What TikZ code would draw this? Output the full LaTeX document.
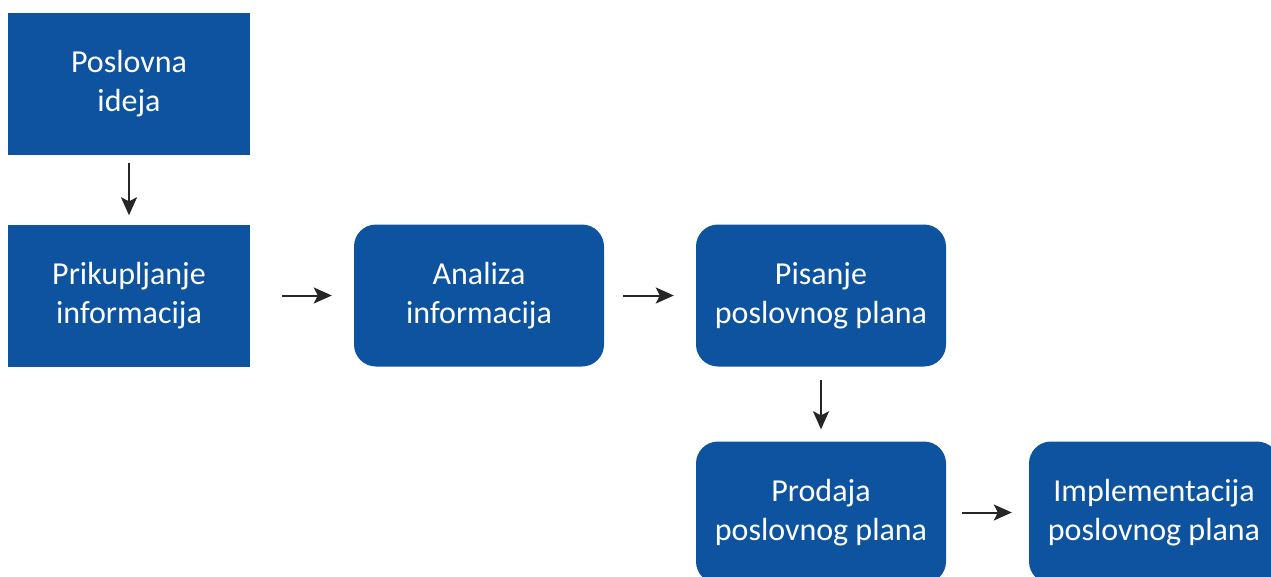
\documentclass[tikz,border=0pt]{standalone}
\usepackage{fontspec}
\setmainfont{Carlito}
\usetikzlibrary{arrows.meta}
\definecolor{boxblue}{RGB}{13,83,160}
\definecolor{arrowgray}{RGB}{38,38,38}
\begin{document}
\begin{tikzpicture}[x=1pt,y=-1pt,
  box/.style={fill=boxblue, draw=none, text=white, minimum width=242pt, minimum height=142pt,
    align=center, inner sep=0pt, font=\fontsize{32}{39}\selectfont},
  roundbox/.style={box, minimum width=250pt, rounded corners=22pt},
  flow/.style={draw=arrowgray, line width=2pt, -{Stealth[length=18pt,width=16pt,inset=4pt]}}]
  \clip (0,0) rectangle (1271,576);
  \useasboundingbox (0,0) rectangle (1271,576);

  \node[box] (idea) at (129,84) {Poslovna\\ideja};
  \node[box] (collect) at (129,295.5) {Prikupljanje\\informacija};
  \node[roundbox] (analyse) at (479,295.5) {Analiza\\informacija};
  \node[roundbox] (write) at (821,295.5) {Pisanje\\poslovnog plana};
  \node[roundbox] (sell) at (821,512.5) {Prodaja\\poslovnog plana};
  \node[roundbox] (implement) at (1154,512.5) {Implementacija\\poslovnog plana};

  \draw[flow, shorten <=8pt, shorten >=9pt] (idea) -- (collect);
  \draw[flow, shorten <=32pt, shorten >=22pt] (collect) -- (analyse);
  \draw[flow, shorten <=19pt, shorten >=22pt] (analyse) -- (write);
  \draw[flow, shorten <=13pt, shorten >=12pt] (write) -- (sell);
  \draw[flow, shorten <=16pt, shorten >=17pt] (sell) -- (implement);
\end{tikzpicture}
\end{document}
